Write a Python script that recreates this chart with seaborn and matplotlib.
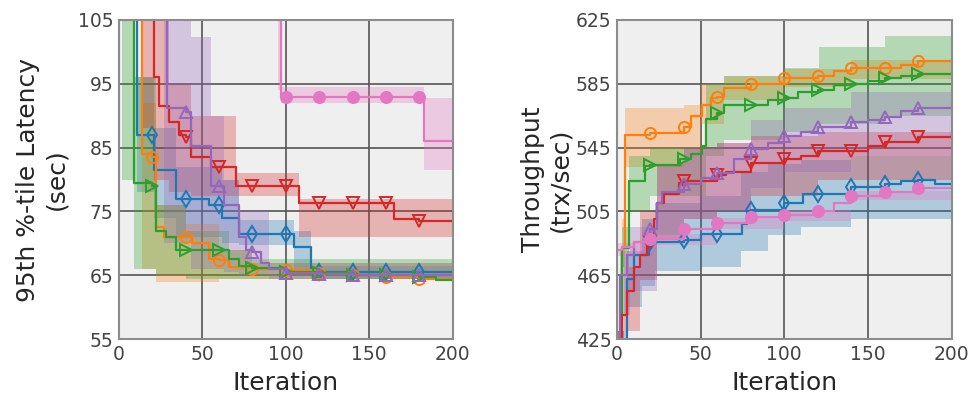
import numpy as np
import pandas as pd
import seaborn as sns
import matplotlib.pyplot as plt

# --- Latency panel (left): step breakpoints, mean line ---
lat_blue_x = [0, 11, 20, 21, 34, 40, 54, 60, 62, 72, 80, 100, 105, 115, 120, 140, 160, 180, 200]
lat_blue_y = [120, 87, 87, 81.5, 77, 77, 76, 76, 74, 71.5, 71.5, 71.5, 69.5, 65.5, 65.5, 65.5, 65.5, 65.5, 65.3]
lat_blue_bx = [0, 11, 21, 34, 62, 72, 105, 115, 200]
lat_blue_lo = [106, 78, 74, 71, 70, 69.8, 66, 64.5, 64.5]
lat_blue_hi = [130, 96, 88, 82, 80, 73.6, 72, 66.5, 66.5]

lat_orange_x = [0, 14, 20, 22, 27, 40, 44, 54, 60, 66, 80, 100, 120, 140, 160, 180, 200]
lat_orange_y = [120, 84, 83.5, 72.5, 71, 71, 70, 67.5, 67.4, 66.3, 66, 65.8, 65.3, 65, 64.8, 64.5, 64.3]
lat_orange_bx = [0, 14, 22, 40, 60, 80, 200]
lat_orange_lo = [106, 66, 64, 64, 64.5, 64.5, 63.5]
lat_orange_hi = [130, 92, 76, 73, 69, 67, 65.5]

lat_green_x = [0, 9, 20, 22, 28, 34, 40, 60, 66, 72, 80, 100, 120, 140, 160, 180, 190, 200]
lat_green_y = [120, 79.5, 79, 72, 71, 69, 69, 69, 67.5, 66.5, 66.2, 65.5, 65.3, 65, 65, 64.8, 64.3, 64]
lat_green_bx = [0, 2, 9, 22, 40, 66, 80, 200]
lat_green_lo = [106, 80, 66, 65, 64.5, 64.5, 64.5, 63.5]
lat_green_hi = [130, 130, 96, 76, 72, 69, 67.5, 66]

lat_red_x = [0, 21, 24, 30, 36, 40, 43, 55, 60, 70, 80, 100, 108, 120, 140, 160, 165, 180, 200]
lat_red_y = [120, 96, 91.5, 89, 87, 86.7, 83.5, 82, 82, 79, 79, 79, 76.3, 76.3, 76.3, 76.3, 73.8, 73.5, 73.5]
lat_red_bx = [0, 14, 21, 30, 43, 70, 108, 165, 200]
lat_red_lo = [106, 88, 80, 78, 77.5, 77.5, 71, 71, 71]
lat_red_hi = [130, 130, 110, 95, 90, 81, 77, 77, 77]

lat_purple_x = [0, 29, 40, 43, 55, 60, 63, 72, 76, 80, 85, 90, 100, 120, 140, 160, 180, 200]
lat_purple_y = [120, 91.2, 90.6, 85.2, 79, 79, 76, 71, 69, 68.7, 67, 66, 65.3, 65.2, 65, 65, 65, 65]
lat_purple_bx = [0, 27, 43, 55, 63, 72, 90, 200]
lat_purple_lo = [106, 70, 66, 66, 65.5, 65, 64.5, 64.5]
lat_purple_hi = [130, 130, 102.4, 90, 80, 75, 67, 66]

lat_pink_x = [0, 97, 100, 120, 140, 160, 180, 183, 200]
lat_pink_y = [130, 93, 93, 93, 93, 93, 93, 86, 86]
lat_pink_bx = [0, 95, 97, 183, 200]
lat_pink_lo = [110, 94, 92, 81.5, 81.5]
lat_pink_hi = [140, 140, 94.5, 92.7, 92.7]

# --- Throughput panel (right) ---
thr_blue_x = [0, 6, 10, 19, 20, 40, 50, 60, 75, 78, 80, 100, 111, 120, 140, 160, 170, 180, 190, 200]
thr_blue_y = [420, 463, 478, 486, 486, 487, 491, 491, 497, 505, 506, 510, 516, 516, 520.5, 522, 524, 525, 522, 522]
thr_blue_bx = [0, 6, 15, 23, 50, 74, 90, 110, 140, 200]
thr_blue_lo = [410, 445, 458, 468, 470, 480, 490, 495, 500, 505]
thr_blue_hi = [430, 480, 500, 510, 515, 530, 535, 537, 540, 542]

thr_orange_x = [0, 3, 5, 20, 40, 44, 51, 56, 60, 64, 80, 100, 120, 130, 140, 160, 170, 180, 200]
thr_orange_y = [420, 482, 553, 554, 558, 565, 572, 576, 576.5, 582.5, 585, 588.5, 590, 593, 595, 595, 597, 599.5, 600]
thr_orange_bx = [0, 3, 5, 40, 50, 64, 100, 140, 200]
thr_orange_lo = [410, 470, 533, 545, 560, 575, 583, 588, 590]
thr_orange_hi = [430, 500, 570, 572, 585, 590, 594, 600, 605]

thr_green_x = [0, 3, 7, 17, 20, 38, 40, 44, 51, 53, 60, 64, 80, 90, 100, 108, 120, 130, 140, 150, 160, 170, 180, 200]
thr_green_y = [420, 482, 524, 533.5, 534, 538, 538, 541, 546, 563, 567, 572, 572, 575, 576, 580, 581, 584, 585, 587, 588.5, 590, 591, 592]
thr_green_bx = [0, 3, 7, 20, 53, 64, 100, 121, 160, 200]
thr_green_lo = [410, 470, 505, 515, 540, 550, 555, 560, 565, 568]
thr_green_hi = [430, 495, 540, 545, 585, 590, 595, 608, 615, 622]

thr_red_x = [0, 3, 6, 10, 14, 18, 20, 22, 24, 28, 37, 40, 60, 65, 80, 100, 110, 120, 140, 150, 160, 180, 200]
thr_red_y = [420, 440, 455, 470, 478, 484, 486, 500, 510, 516, 523, 524, 528, 530, 535.5, 538, 540, 543, 543, 546, 548.5, 551.5, 555]
thr_red_bx = [0, 4, 14, 24, 40, 60, 80, 120, 200]
thr_red_lo = [410, 430, 462, 488, 500, 505, 515, 525, 535]
thr_red_hi = [430, 470, 505, 535, 545, 548, 552, 555, 565]

thr_purple_x = [0, 2, 6, 10, 20, 24, 27, 40, 50, 60, 70, 80, 90, 100, 110, 120, 140, 150, 160, 170, 180, 200]
thr_purple_y = [420, 465, 478, 486, 494, 510, 517, 522, 526, 529, 538, 544, 548, 552, 555, 558, 561, 562, 564, 568, 570, 574]
thr_purple_bx = [0, 2, 8, 24, 40, 60, 80, 100, 140, 200]
thr_purple_lo = [410, 440, 455, 490, 500, 505, 520, 530, 540, 548]
thr_purple_hi = [430, 480, 495, 535, 545, 548, 562, 570, 580, 590]

thr_pink_x = [0, 3, 10, 20, 40, 60, 80, 100, 120, 130, 140, 160, 180, 200]
thr_pink_y = [481, 483, 486, 487.5, 494, 497.5, 501.5, 502.5, 505, 510, 515, 517.5, 520, 520]
thr_pink_bx = [0, 20, 60, 100, 140, 200]
thr_pink_lo = [477, 484, 494, 499, 512, 517]
thr_pink_hi = [485, 491, 501, 506, 518, 523]

pal = sns.color_palette('tab10')
series_style = [
    ('blue', pal[0], 'd', 'none'),
    ('orange', pal[1], 'o', 'none'),
    ('green', pal[2], '>', 'none'),
    ('red', pal[3], 'v', 'none'),
    ('purple', pal[4], '^', 'none'),
    ('pink', pal[6], 'o', 'full'),
]


def draw_panel(ax, prefix):
    g = globals()
    for name, color, marker, fill in series_style:
        xs = g[f'{prefix}_{name}_x']
        ys = g[f'{prefix}_{name}_y']
        bx = g[f'{prefix}_{name}_bx']
        ax.fill_between(bx, g[f'{prefix}_{name}_lo'], g[f'{prefix}_{name}_hi'],
                        step='post', color=color, alpha=0.3, linewidth=0)
        marks = [i for i, t in enumerate(xs) if t % 20 == 0 and 0 < t < 200]
        sns.lineplot(x=xs, y=ys, ax=ax, color=color, estimator=None, sort=False,
                     drawstyle='steps-post', linewidth=1.6, marker=marker,
                     markevery=marks, fillstyle=fill, markersize=8,
                     markeredgecolor=color, markerfacecolor=color if fill == 'full' else 'none',
                     markeredgewidth=1.4)


sns.set_style('whitegrid', {
    'axes.facecolor': '#efefef',
    'axes.edgecolor': '#8c8c8c',
    'grid.color': '#555555',
})
plt.rcParams['font.family'] = ['DejaVu Sans']

fig = plt.figure(figsize=(9.73, 3.99), dpi=100)
ax1 = fig.add_axes([0.1223, 0.150, 0.343, 0.800])
ax2 = fig.add_axes([0.634, 0.150, 0.344, 0.800])

draw_panel(ax1, 'lat')
draw_panel(ax2, 'thr')

ax1.set_xlim(0, 200)
ax1.set_ylim(55, 105)
ax1.set_yticks([55, 65, 75, 85, 95, 105])
ax1.set_ylabel('95th %-tile Latency\n(sec)', fontsize=18, labelpad=7)

ax2.set_xlim(0, 200)
ax2.set_ylim(425, 625)
ax2.set_yticks([425, 465, 505, 545, 585, 625])
ax2.set_ylabel('Throughput\n(trx/sec)', fontsize=18, labelpad=2)

for ax in (ax1, ax2):
    ax.set_xticks([0, 50, 100, 150, 200])
    ax.set_xlabel('Iteration', fontsize=18, labelpad=5)
    ax.grid(True, color='#555555', linewidth=1.2)
    ax.tick_params(length=0, labelsize=13.5, labelcolor='#444444', pad=4)
    for sp in ax.spines.values():
        sp.set_linewidth(1.5)
        sp.set_color('#8c8c8c')

fig.savefig('out.png', dpi=100)
